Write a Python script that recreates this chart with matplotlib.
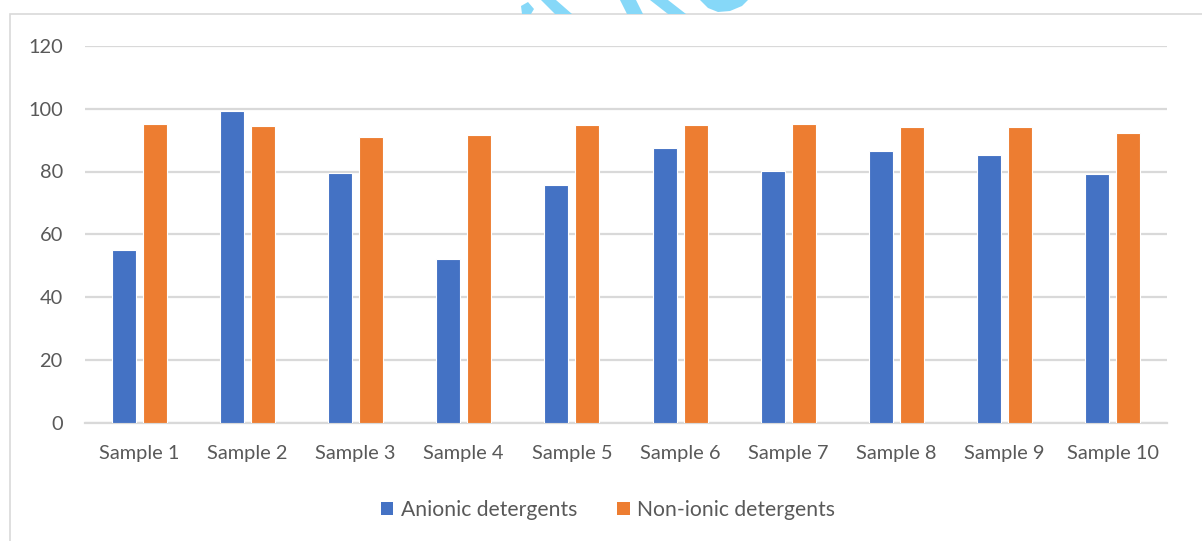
import numpy as np
import matplotlib
matplotlib.use("Agg")
import matplotlib.pyplot as plt
from matplotlib.patches import Rectangle, Polygon, Patch

plt.rcParams['font.family'] = ['Lato', 'DejaVu Sans']

samples = ["Sample 1", "Sample 2", "Sample 3", "Sample 4", "Sample 5",
           "Sample 6", "Sample 7", "Sample 8", "Sample 9", "Sample 10"]
anionic = [55.0, 99.2, 79.6, 52.0, 75.7, 87.4, 80.3, 86.6, 85.2, 79.2]
nonionic = [95.2, 94.5, 91.0, 91.7, 94.7, 94.8, 95.0, 94.1, 94.2, 92.4]
series_names = ["Anionic detergents", "Non-ionic detergents"]
yticks = [0, 20, 40, 60, 80, 100, 120]

blue = "#4472C4"
orange = "#ED7D31"
grid = "#D9D9D9"
txt = "#595959"

W, H = 1202, 541
fig = plt.figure(figsize=(W / 100, H / 100), dpi=100)

# px helper: figure coords from top-left pixel positions
def px(x, y):
    return (x / W, 1 - y / H)

ax = fig.add_axes([85 / W, (H - 422.5) / H, 1082 / W, (422.5 - 46) / H])

x = np.arange(len(samples))
bw = 0.222
off = 0.143
ax.bar(x - off, anionic, bw, color=blue, edgecolor="white", linewidth=0.8, zorder=3)
ax.bar(x + off, nonionic, bw, color=orange, edgecolor="white", linewidth=0.8, zorder=3)

ax.set_xlim(-0.5, len(samples) - 0.5)
ax.set_ylim(0, 120)
ax.set_yticks(yticks)
ax.set_xticks(x)
ax.set_xticklabels(samples)
ax.yaxis.grid(True, color=grid, linewidth=1.6, zorder=0)
ax.tick_params(axis="both", length=0, labelsize=14.4, labelcolor=txt)
ax.tick_params(axis="y", pad=16)
ax.tick_params(axis="x", pad=16)
for s in ["top", "right", "left"]:
    ax.spines[s].set_visible(False)
ax.spines["bottom"].set_color(grid)
ax.spines["bottom"].set_linewidth(1.6)

handles = [Patch(facecolor=blue), Patch(facecolor=orange)]
fig.legend(handles, series_names, loc="center", bbox_to_anchor=px(608, 510),
           ncol=2, frameon=False, fontsize=15.2, labelcolor=txt,
           handlelength=0.6, handleheight=0.6, handletextpad=0.35, columnspacing=1.9)

# chart frame
fig.patches.append(Rectangle(px(10, 560), (W + 20) / W, (560 - 14) / H,
                             transform=fig.transFigure, fill=False,
                             edgecolor=grid, linewidth=1.2))

# logo pieces peeking over the frame
wm = "#86D8F8"
shapes = [
    [(541, 0), (556, 0), (572, 14), (555, 14)],
    [(521, 6), (528, 2), (534, 9), (531, 14), (522, 14)],
    [(620, 0), (636, 0), (643, 14), (627, 14)],
    [(650, 0), (668, 0), (686, 14), (668, 14)],
    [(700, 0), (748, 0), (742, 6), (730, 11), (718, 12), (708, 8)],
]
for pts in shapes:
    fig.patches.append(Polygon([px(a, b) for a, b in pts], closed=True,
                               transform=fig.transFigure, facecolor=wm,
                               edgecolor="none"))

fig.savefig("out.png", dpi=100, facecolor="white")
